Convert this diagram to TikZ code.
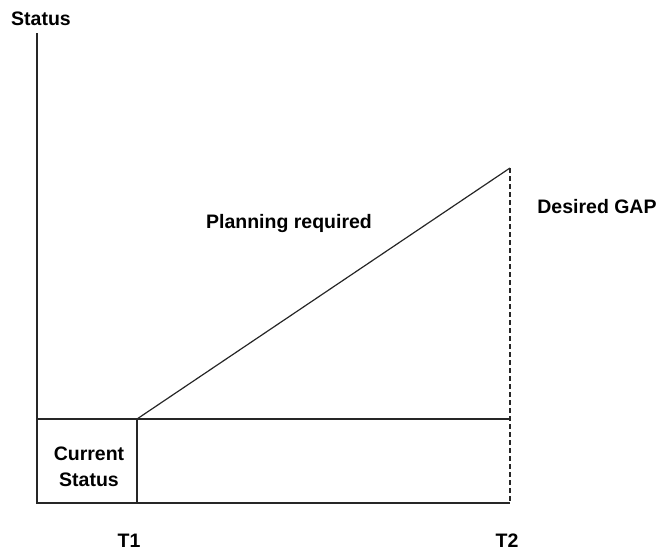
\documentclass[tikz,border=0pt]{standalone}
\usepackage{fontspec}
\setmainfont{Liberation Sans}
\begin{document}
\begin{tikzpicture}[x=1pt,y=-1pt,
  lbl/.style={font=\fontsize{19.5}{23}\selectfont\bfseries, inner sep=0pt, align=center},
  ln/.style={line width=1.2pt, black!85},
  dln/.style={line width=1.2pt, black!85, dash pattern=on 5pt off 3pt}]
\useasboundingbox (0,0) rectangle (662,554);
\coordinate (axtop) at (37,33);
\coordinate (o) at (37,503);
\coordinate (cl) at (37,419);
\coordinate (t1top) at (137,419);
\coordinate (t1bot) at (137,503);
\coordinate (r) at (510,419);
\coordinate (rbot) at (510,503);
\coordinate (peak) at (510,168);
\draw[ln] (axtop) -- (o) -- (rbot);
\draw[ln] (cl) -- (r);
\draw[ln] (t1top) -- (t1bot);
\draw[ln] (t1top) -- (peak);
\draw[dln] (peak) -- (rbot);
\node[lbl] (status) at (41,19) {Status};
\node[lbl] (plan) at (289,223) {Planning required};
\node[lbl] (gap) at (597,207) {Desired GAP};
\node[lbl, text width=90pt, font=\fontsize{19.5}{26}\selectfont\bfseries] (cur) at (89,467) {Current\\Status};
\node[lbl] (t1) at (129,541) {T1};
\node[lbl] (t2) at (507,541) {T2};
\end{tikzpicture}
\end{document}
